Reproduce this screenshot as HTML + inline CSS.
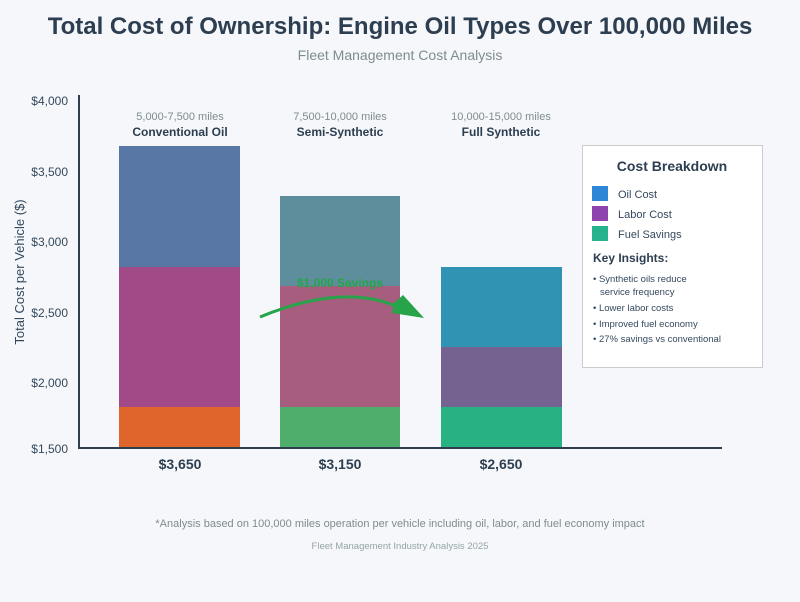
<!DOCTYPE html>
<html><head><style>
html,body{margin:0;padding:0;background:#f5f7fa;}
body{width:800px;height:597px;overflow:hidden;font-family:"Liberation Sans",sans-serif;}
</style></head><body>
<svg width="800" height="597" xmlns="http://www.w3.org/2000/svg" font-family="Liberation Sans, sans-serif">
<rect width="800" height="597" fill="#f5f7fa"/>
<text x="400" y="34" text-anchor="middle" font-size="24" font-weight="bold" fill="#2c3e50">Total Cost of Ownership: Engine Oil Types Over 100,000 Miles</text>
<text x="400" y="60" text-anchor="middle" font-size="14" fill="#7f8c8d">Fleet Management Cost Analysis</text>
<g font-size="12" fill="#34495e" text-anchor="end">
<text x="68" y="105">$4,000</text>
<text x="68" y="176">$3,500</text>
<text x="68" y="246">$3,000</text>
<text x="68" y="317">$2,500</text>
<text x="68" y="387">$2,000</text>
<text x="68" y="453">$1,500</text>
</g>
<text transform="translate(24,272) rotate(-90)" text-anchor="middle" font-size="13" fill="#34495e">Total Cost per Vehicle ($)</text>
<!-- bar 1 -->
<rect x="119" y="146" width="121" height="121" fill="#5877a5"/>
<rect x="119" y="267" width="121" height="140" fill="#a24a88"/>
<rect x="119" y="407" width="121" height="41" fill="#e0652c"/>
<!-- bar 2 -->
<rect x="280" y="196" width="120" height="90" fill="#5e8e9b"/>
<rect x="280" y="286" width="120" height="121" fill="#a75e7e"/>
<rect x="280" y="407" width="120" height="41" fill="#50ae6d"/>
<!-- bar 3 -->
<rect x="441" y="267" width="121" height="80" fill="#3193b3"/>
<rect x="441" y="347" width="121" height="60" fill="#756290"/>
<rect x="441" y="407" width="121" height="41" fill="#28b283"/>
<line x1="79" y1="95" x2="79" y2="449" stroke="#2c3e50" stroke-width="2"/>
<line x1="78" y1="448" x2="722" y2="448" stroke="#2c3e50" stroke-width="2"/>
<g text-anchor="middle">
<text x="180" y="120" font-size="11" fill="#7f8c8d">5,000-7,500 miles</text>
<text x="180" y="136" font-size="12" font-weight="bold" fill="#2c3e50">Conventional Oil</text>
<text x="340" y="120" font-size="11" fill="#7f8c8d">7,500-10,000 miles</text>
<text x="340" y="136" font-size="12" font-weight="bold" fill="#2c3e50">Semi-Synthetic</text>
<text x="501" y="120" font-size="11" fill="#7f8c8d">10,000-15,000 miles</text>
<text x="501" y="136" font-size="12" font-weight="bold" fill="#2c3e50">Full Synthetic</text>
<text x="180" y="469" font-size="14" font-weight="bold" fill="#2c3e50">$3,650</text>
<text x="340" y="469" font-size="14" font-weight="bold" fill="#2c3e50">$3,150</text>
<text x="501" y="469" font-size="14" font-weight="bold" fill="#2c3e50">$2,650</text>
<text x="340" y="287" font-size="12" font-weight="bold" fill="#27a44a">$1,000 Savings</text>
</g>
<path d="M260 317 Q345 282 400 308" fill="none" stroke="#27a44a" stroke-width="3"/>
<polygon points="394,303 403,295 424,318 392,313" fill="#27a44a"/>
<!-- legend -->
<rect x="582.5" y="145.5" width="180" height="222" fill="#fff" stroke="#ccc"/>
<text x="672" y="171" text-anchor="middle" font-size="14" font-weight="bold" fill="#2c3e50">Cost Breakdown</text>
<rect x="592" y="186" width="16" height="15" fill="#2e86d6"/>
<rect x="592" y="206" width="16" height="15" fill="#8e44ad"/>
<rect x="592" y="226" width="16" height="15" fill="#26b28a"/>
<g font-size="11" fill="#34495e">
<text x="618" y="198">Oil Cost</text>
<text x="618" y="218">Labor Cost</text>
<text x="618" y="238">Fuel Savings</text>
</g>
<text x="593" y="262" font-size="12" font-weight="bold" fill="#2c3e50">Key Insights:</text>
<g font-size="9.5" fill="#34495e">
<text x="593" y="282">• Synthetic oils reduce</text>
<text x="600" y="295">service frequency</text>
<text x="593" y="311">• Lower labor costs</text>
<text x="593" y="327">• Improved fuel economy</text>
<text x="593" y="342">• 27% savings vs conventional</text>
</g>
<text x="400" y="527" text-anchor="middle" font-size="11" fill="#7f8c8d">*Analysis based on 100,000 miles operation per vehicle including oil, labor, and fuel economy impact</text>
<text x="400" y="549" text-anchor="middle" font-size="9.5" fill="#95a5a6">Fleet Management Industry Analysis 2025</text>
</svg>
</body></html>
